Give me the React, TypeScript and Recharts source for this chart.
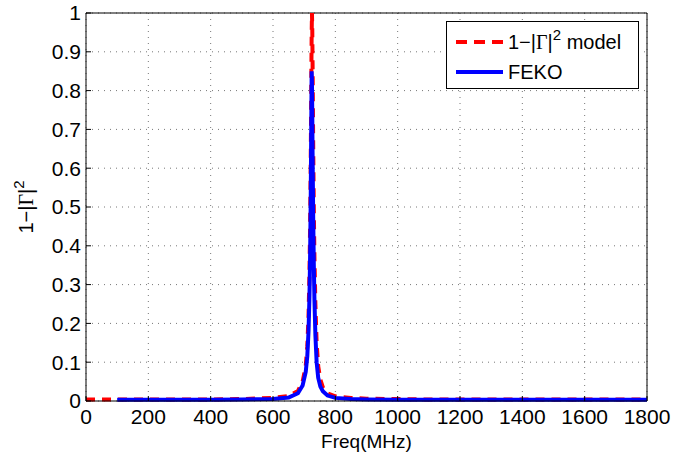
import React from "react";
import {
  LineChart,
  Line,
  XAxis,
  YAxis,
  CartesianGrid,
  Label,
  ReferenceLine,
} from "recharts";

// frequency samples (MHz), denser around the resonance
const freqs = [
  0, 100, 200, 300, 400, 500, 600, 650, 680, 695, 705, 710, 714, 717, 719, 721,
  723, 724, 725, 726, 727, 729, 731, 733, 736, 740, 745, 752, 760, 775, 800,
  850, 900, 1000, 1100, 1200, 1300, 1400, 1500, 1600, 1700, 1800,
];

// 1-|Gamma|^2 model (red dashed)
const modelValues = [
  0.004, 0.004, 0.004, 0.004, 0.004, 0.005, 0.008, 0.013, 0.026, 0.05, 0.09,
  0.14, 0.22, 0.33, 0.45, 0.61, 0.84, 0.94, 1.0, 0.96, 0.87, 0.66, 0.49, 0.37,
  0.25, 0.15, 0.09, 0.055, 0.035, 0.02, 0.012, 0.008, 0.006, 0.005, 0.004,
  0.004, 0.004, 0.004, 0.004, 0.004, 0.004, 0.004,
];

// FEKO simulation (blue), starts at 100 MHz
const fekoValues = [
  null, 0.003, 0.003, 0.003, 0.003, 0.004, 0.005, 0.009, 0.02, 0.04, 0.075,
  0.115, 0.18, 0.27, 0.37, 0.52, 0.74, 0.85, 0.82, 0.74, 0.64, 0.47, 0.35, 0.26,
  0.17, 0.1, 0.06, 0.037, 0.025, 0.014, 0.008, 0.005, 0.004, 0.003, 0.003,
  0.003, 0.003, 0.003, 0.003, 0.003, 0.003, 0.003,
];

const xTicks = [0, 200, 400, 600, 800, 1000, 1200, 1400, 1600, 1800];
const yTicks = [0, 0.1, 0.2, 0.3, 0.4, 0.5, 0.6, 0.7, 0.8, 0.9, 1];

const data = freqs.map((f, i) => ({
  freq: f,
  model: modelValues[i],
  feko: fekoValues[i],
}));

const FONT = "'Liberation Sans', Arial, Helvetica, sans-serif";

const YLabel = ({ viewBox }: any) => {
  const cx = 33;
  const cy = viewBox.y + viewBox.height / 2;
  return (
    <text
      x={cx}
      y={cy}
      transform={`rotate(-90 ${cx} ${cy})`}
      textAnchor="middle"
      fontFamily={FONT}
      fontSize={20}
      fill="#000"
    >
      1−|<tspan fontFamily="'Liberation Serif', serif">Γ</tspan>|
      <tspan dy={-9} fontSize={15}>2</tspan>
    </text>
  );
};

const App = () => {
  return (
    <div style={{ position: "absolute", left: 0, top: 0, width: 675, height: 461, background: "#fff" }}>
      <LineChart
        width={675}
        height={461}
        data={data}
        margin={{ top: 13, right: 28, bottom: 30, left: 0 }}
        style={{ fontFamily: FONT }}
      >
        <CartesianGrid
          stroke="#777"
          strokeDasharray="1 5"
          horizontalValues={yTicks}
          verticalValues={xTicks}
        />
        <XAxis
          dataKey="freq"
          type="number"
          domain={[0, 1800]}
          ticks={xTicks}
          interval={0}
          height={30}
          stroke="#000"
          tickSize={-5}
          tickMargin={13}
          tick={{ fill: "#000", fontSize: 21 }}
        >
          <Label value="Freq(MHz)" position="bottom" offset={4} style={{ fontSize: 19, fill: "#000" }} />
        </XAxis>
        <YAxis
          type="number"
          domain={[0, 1]}
          ticks={yTicks}
          interval={0}
          width={86}
          stroke="#000"
          tickSize={-5}
          tickMargin={10}
          tick={{ fill: "#000", fontSize: 21 }}
          label={<YLabel />}
        />
        <ReferenceLine y={1} stroke="#000" strokeWidth={1} ifOverflow="visible" />
        <ReferenceLine x={1800} stroke="#000" strokeWidth={1} ifOverflow="visible" />
        <Line
          dataKey="model"
          type="linear"
          stroke="#ff0000"
          strokeWidth={4}
          strokeDasharray="9 7"
          dot={false}
          isAnimationActive={false}
        />
        <Line
          dataKey="feko"
          type="linear"
          stroke="#0000ff"
          strokeWidth={4}
          dot={false}
          connectNulls={false}
          isAnimationActive={false}
        />
      </LineChart>
      <div
        style={{
          position: "absolute",
          left: 446,
          top: 21,
          width: 191,
          height: 66,
          border: "1px solid #000",
          background: "#fff",
          fontFamily: FONT,
          fontSize: 20,
          color: "#000",
        }}
      >
        <svg width={191} height={66} style={{ position: "absolute", left: 0, top: 0 }}>
          <line x1={9} y1={20} x2={56} y2={20} stroke="#ff0000" strokeWidth={4} strokeDasharray="11 7" />
          <line x1={9} y1={50} x2={56} y2={50} stroke="#0000ff" strokeWidth={4} />
          <text x={61} y={27} fontFamily={FONT} fontSize={20} fill="#000">
            1−|<tspan fontFamily="'Liberation Serif', serif">Γ</tspan>|
            <tspan dy={-9} fontSize={15}>2</tspan>
            <tspan dy={9}> model</tspan>
          </text>
          <text x={61} y={57} fontFamily={FONT} fontSize={20} fill="#000">
            FEKO
          </text>
        </svg>
      </div>
    </div>
  );
};

export default App;
